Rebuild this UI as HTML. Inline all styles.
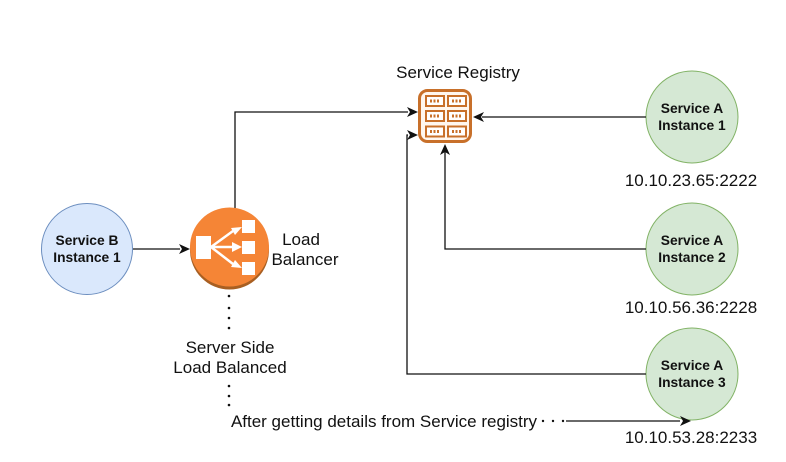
<!DOCTYPE html>
<html><head><meta charset="utf-8"><style>html,body{margin:0;padding:0;background:#fff}svg{display:block}text{font-family:"Liberation Sans",sans-serif;fill:#111;text-anchor:middle}.s{font-size:17px}.b{font-size:13.8px;font-weight:bold}</style></head><body>
<svg width="786" height="462" viewBox="0 0 786 462" xmlns="http://www.w3.org/2000/svg">
<rect width="786" height="462" fill="#fff"/>
<circle cx="87" cy="249" r="45.500" fill="#dae8fc" stroke="#6c8ebf" stroke-width="1"/>
<text class="b" x="87" y="245">Service B</text><text class="b" x="87" y="262">Instance 1</text>
<circle cx="692" cy="117" r="46" fill="#d5e8d4" stroke="#82b366" stroke-width="1"/>
<text class="b" x="692" y="113">Service A</text><text class="b" x="692" y="130">Instance 1</text>
<circle cx="692" cy="249" r="46" fill="#d5e8d4" stroke="#82b366" stroke-width="1"/>
<text class="b" x="692" y="245">Service A</text><text class="b" x="692" y="262">Instance 2</text>
<circle cx="692" cy="374" r="46" fill="#d5e8d4" stroke="#82b366" stroke-width="1"/>
<text class="b" x="692" y="370">Service A</text><text class="b" x="692" y="387">Instance 3</text>
<g fill="none" stroke="#111" stroke-width="1.300">
<path d="M235 208V112H408"/>
<path d="M133 249H180"/>
<path d="M646 117H482"/>
<path d="M646 249H445V152"/>
<path d="M646 374H407V135H408"/>
<path d="M566 421H680"/>
</g>
<g fill="#111">
<path d="M418 112l-11-5 3 5-3 5z"/>
<path d="M190 249l-11-5 3 5-3 5z"/>
<path d="M473 117l11-5-3 5 3 5z"/>
<path d="M445 144l-5 11 5-3 5 3z"/>
<path d="M418 135l-11-5 3 5-3 5z"/>
<path d="M691 421l-11-5 3 5-3 5z"/>
<circle cx="229" cy="296" r="1.300"/><circle cx="229" cy="308" r="1.300"/><circle cx="229" cy="318" r="1.300"/><circle cx="229" cy="328" r="1.300"/>
<circle cx="229" cy="386" r="1.300"/><circle cx="229" cy="396" r="1.300"/><circle cx="229" cy="405" r="1.300"/>
<circle cx="543" cy="421" r="1.200"/><circle cx="553" cy="421" r="1.200"/><circle cx="563" cy="421" r="1.200"/>
</g>
<circle cx="229.500" cy="250" r="39.500" fill="#a85f22"/>
<circle cx="229.500" cy="247" r="39.500" fill="#f58536"/>
<g fill="#fff">
<rect x="196" y="236" width="15" height="23"/>
<rect x="242" y="220" width="13" height="13"/>
<rect x="242" y="241" width="13" height="13"/>
<rect x="242" y="262" width="13" height="13"/>
<path d="M242 227l-11 1 4 7zM242 247l-10-5v10zM242 268l-7-8-4 7z"/>
</g>
<path d="M211 247L233 231M211 247H234M211 247L233 264" stroke="#fff" stroke-width="2.500" fill="none"/>
<rect x="419.500" y="90.500" width="51" height="51" rx="8" fill="#fff7ef" stroke="#c8702a" stroke-width="3"/>
<g fill="#fff" stroke="#c8702a" stroke-width="2">
<rect x="426" y="96" width="18" height="10"/><rect x="448" y="96" width="18" height="10"/>
<rect x="426" y="111" width="18" height="10"/><rect x="448" y="111" width="18" height="10"/>
<rect x="426" y="126.500" width="18" height="10"/><rect x="448" y="126.500" width="18" height="10"/>
</g>
<g stroke="#c8702a" stroke-width="3" stroke-dasharray="2 1.500">
<path d="M430 101h10M452 101h10M430 116h10M452 116h10M430 131.500h10M452 131.500h10"/>
</g>
<text class="s" x="458" y="78">Service Registry</text>
<text class="s" x="301" y="245">Load</text>
<text class="s" x="305" y="265">Balancer</text>
<text class="s" x="230" y="353">Server Side</text>
<text class="s" x="230" y="373">Load Balanced</text>
<text class="s" x="384" y="427">After getting details from Service registry</text>
<text class="s" x="691" y="186">10.10.23.65:2222</text>
<text class="s" x="691" y="313">10.10.56.36:2228</text>
<text class="s" x="691" y="443">10.10.53.28:2233</text>
</svg>
</body></html>
